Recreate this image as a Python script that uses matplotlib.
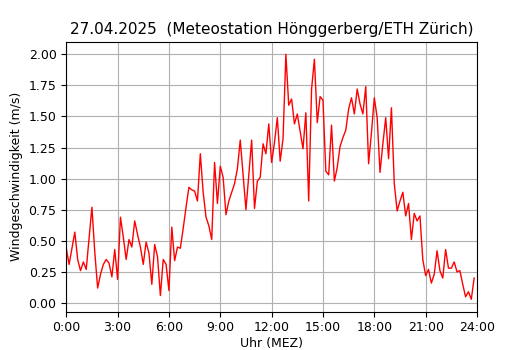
import matplotlib
matplotlib.use("Agg")
import matplotlib.pyplot as plt
import numpy as np

title = "27.04.2025  (Meteostation Hönggerberg/ETH Zürich)"
xlabel = "Uhr (MEZ)"
ylabel = "Windgeschwindigkeit (m/s)"

# 10-minute values, 00:00 .. 23:50
step_minutes = 10
wind = [
    0.44, 0.31, 0.44, 0.57, 0.35, 0.26, 0.33, 0.27, 0.52, 0.77,
    0.41, 0.12, 0.23, 0.31, 0.35, 0.32, 0.21, 0.43, 0.19, 0.69,
    0.53, 0.35, 0.51, 0.45, 0.66, 0.55, 0.45, 0.31, 0.49, 0.40,
    0.15, 0.47, 0.37, 0.06, 0.35, 0.31, 0.10,
    0.61, 0.34, 0.45, 0.44, 0.60, 0.77, 0.93, 0.91, 0.90, 0.82,
    1.20, 0.89, 0.69, 0.62, 0.51, 1.13, 0.80, 1.10,
    1.01, 0.71, 0.82, 0.89, 0.96, 1.08, 1.31, 1.03, 0.75, 1.03,
    1.31, 0.76, 0.98, 1.01, 1.28, 1.20, 1.44, 1.13,
    1.29, 1.49, 1.14, 1.32, 2.00, 1.59, 1.64, 1.44, 1.52, 1.38,
    1.24, 1.53, 0.82, 1.72, 1.96, 1.45, 1.66, 1.63,
    1.06, 1.03, 1.43, 0.98, 1.09, 1.26, 1.33, 1.39, 1.56, 1.65,
    1.52, 1.72, 1.60, 1.52, 1.74, 1.12, 1.37, 1.65, 1.49,
    1.05, 1.28, 1.49, 1.16, 1.57, 0.96, 0.74, 0.82, 0.89, 0.70,
    0.80, 0.51, 0.72, 0.66, 0.70, 0.35, 0.22, 0.27, 0.16, 0.23,
    0.42, 0.26, 0.20, 0.43, 0.28, 0.28, 0.33, 0.25, 0.26, 0.15,
    0.05, 0.09, 0.03, 0.20,
]
tick_hours = [0, 3, 6, 9, 12, 15, 18, 21, 24]
tick_labels = ["0:00", "3:00", "6:00", "9:00", "12:00", "15:00", "18:00", "21:00", "24:00"]

hours = np.arange(len(wind)) * step_minutes / 60.0

fig, ax = plt.subplots(figsize=(5.3, 3.5), dpi=100)
ax.plot(hours, wind, color="red", linewidth=1)
ax.set_xlim(0, 24)
ax.set_xticks(tick_hours)
ax.set_xticklabels(tick_labels)
ax.set_yticks(np.arange(0, 2.01, 0.25))
ax.grid(True)
ax.set_title(title, fontsize=11)
ax.set_xlabel(xlabel, fontsize=9, labelpad=2)
ax.set_ylabel(ylabel, fontsize=9)
ax.tick_params(labelsize=9)
fig.savefig("out.png", dpi=100)
